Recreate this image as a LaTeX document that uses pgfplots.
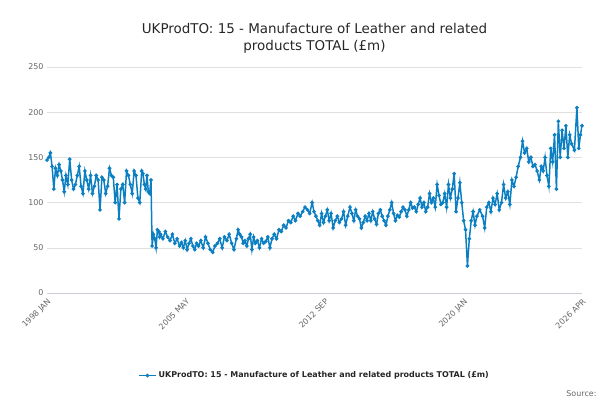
\documentclass[border=0pt]{standalone}
\usepackage{pgfplots}
\pgfplotsset{compat=1.18}
\usepackage{fontspec}
\setmainfont{DejaVu Sans}
\definecolor{ln}{HTML}{0B7FC2}
\begin{document}
\begin{tikzpicture}
\useasboundingbox (-47bp,-107bp) rectangle (553bp,293bp);
\begin{axis}[
  scale only axis, width=535bp, height=226bp,
  at={(0,0)},
  xmin=1998, xmax=2026.25, ymin=0, ymax=250,
  ytick={0,50,100,150,200,250},
  xtick={1998,2005.333,2012.667,2020,2026.25},
  xticklabels={1998 JAN,2005 MAY,2012 SEP,2020 JAN,2026 APR},
  xticklabel style={rotate=45,anchor=north east,font=\footnotesize,text=black!60},
  yticklabel style={font=\footnotesize,text=black!60},
  /pgf/number format/assume math mode=true,
  ymajorgrids, grid style={black!12},
  axis line style={draw=none},
  axis x line*=bottom, x axis line style={draw=blue!25!black!20},
  tick style={draw=none},
  major tick length=0pt,
  title={UKProdTO: 15 - Manufacture of Leather and related\\products TOTAL (£m)},
  title style={align=center,font=\fontsize{13.5}{17}\selectfont,text=black!85,yshift=4bp},
  legend style={at={(0.5,-0.33)},anchor=north,draw=none,font=\footnotesize\bfseries,text=black!85},
  legend cell align=left,
]
\addplot[ln, line width=1.5pt, mark=*, mark size=1pt] coordinates {
(1998.00,147)(1998.09,150)(1998.18,155)(1998.27,140)(1998.36,115)(1998.45,138)(1998.55,130)(1998.64,142)(1998.73,135)(1998.82,125)(1998.91,112)
(1999.00,130)(1999.10,120)(1999.20,148)(1999.30,125)(1999.40,115)(1999.50,120)(1999.60,130)(1999.70,140)(1999.80,118)(1999.90,110)
(2000.00,135)(2000.10,125)(2000.20,115)(2000.30,130)(2000.40,110)(2000.50,118)(2000.60,130)(2000.70,125)(2000.80,92)(2000.90,128)
(2001.00,125)(2001.10,110)(2001.20,118)(2001.30,138)(2001.40,130)(2001.50,128)(2001.60,100)(2001.70,120)(2001.80,82)(2001.90,115)
(2002.00,120)(2002.10,100)(2002.20,135)(2002.30,130)(2002.40,120)(2002.50,110)(2002.60,135)(2002.70,130)(2002.80,105)(2002.90,100)
(2003.00,135)(2003.07,132)(2003.14,120)(2003.21,115)(2003.28,130)(2003.35,112)(2003.42,110)(2003.49,125)
(2003.55,52)(2003.62,65)(2003.69,60)(2003.76,50)(2003.83,70)(2003.90,68)(2003.95,62)
(2004.00,65)(2004.12,60)(2004.25,68)(2004.37,62)(2004.50,58)(2004.62,65)(2004.75,55)(2004.87,60)
(2005.00,52)(2005.10,56)(2005.20,50)(2005.30,58)(2005.40,48)(2005.50,55)(2005.60,60)(2005.70,52)(2005.80,48)(2005.90,55)
(2006.00,52)(2006.12,58)(2006.25,50)(2006.37,62)(2006.50,55)(2006.62,48)(2006.75,45)(2006.87,52)
(2007.00,55)(2007.12,60)(2007.25,50)(2007.37,62)(2007.50,58)(2007.62,65)(2007.75,55)(2007.87,48)
(2008.00,60)(2008.09,70)(2008.18,65)(2008.27,62)(2008.36,55)(2008.45,58)(2008.55,52)(2008.64,60)(2008.73,65)(2008.82,48)(2008.91,62)
(2009.00,55)(2009.11,58)(2009.22,50)(2009.33,60)(2009.44,55)(2009.55,57)(2009.66,62)(2009.77,50)(2009.88,60)
(2010.00,65)(2010.12,60)(2010.25,70)(2010.37,68)(2010.50,75)(2010.62,72)(2010.75,80)(2010.87,78)
(2011.00,85)(2011.12,80)(2011.25,88)(2011.37,85)(2011.50,90)(2011.62,95)(2011.75,92)(2011.87,88)
(2012.00,100)(2012.10,90)(2012.20,85)(2012.30,80)(2012.40,75)(2012.50,88)(2012.60,78)(2012.70,85)(2012.80,92)(2012.90,80)
(2013.00,88)(2013.11,72)(2013.22,80)(2013.33,85)(2013.44,78)(2013.55,82)(2013.66,90)(2013.77,75)(2013.88,85)
(2014.00,95)(2014.10,88)(2014.20,80)(2014.30,92)(2014.40,85)(2014.50,82)(2014.60,72)(2014.70,78)(2014.80,85)(2014.90,80)
(2015.00,88)(2015.10,80)(2015.20,90)(2015.30,82)(2015.40,76)(2015.50,88)(2015.60,92)(2015.70,85)(2015.80,80)(2015.90,75)
(2016.00,85)(2016.10,92)(2016.20,100)(2016.30,88)(2016.40,80)(2016.50,86)(2016.60,84)(2016.70,90)(2016.80,95)(2016.90,92)
(2017.00,85)(2017.10,92)(2017.20,100)(2017.30,94)(2017.40,95)(2017.50,90)(2017.60,98)(2017.70,105)(2017.80,95)(2017.90,100)
(2018.00,90)(2018.10,95)(2018.20,110)(2018.30,100)(2018.40,105)(2018.50,95)(2018.60,120)(2018.70,108)(2018.80,98)(2018.90,100)
(2019.00,110)(2019.10,95)(2019.20,120)(2019.30,105)(2019.40,115)(2019.50,132)(2019.60,90)(2019.70,105)(2019.80,122)(2019.90,100)
(2020.00,80)(2020.10,70)(2020.20,30)(2020.30,60)(2020.40,80)(2020.50,90)(2020.60,75)(2020.70,85)(2020.85,92)
(2021.00,85)(2021.11,72)(2021.22,95)(2021.33,100)(2021.44,90)(2021.55,105)(2021.66,98)(2021.77,110)(2021.88,92)
(2022.00,100)(2022.11,120)(2022.22,105)(2022.33,112)(2022.44,98)(2022.55,125)(2022.66,118)(2022.77,128)(2022.88,140)
(2023.00,150)(2023.11,168)(2023.22,155)(2023.33,160)(2023.44,145)(2023.55,150)(2023.66,140)(2023.77,142)(2023.88,135)
(2024.00,125)(2024.10,140)(2024.20,135)(2024.30,150)(2024.40,130)(2024.50,118)(2024.60,160)(2024.70,145)(2024.80,175)(2024.90,115)
(2025.00,190)(2025.10,150)(2025.20,180)(2025.30,160)(2025.40,185)(2025.50,150)(2025.60,175)(2025.70,165)(2025.85,158)(2025.98,205)(2026.08,160)(2026.17,175)(2026.25,185)
};
\addlegendentry{UKProdTO: 15 - Manufacture of Leather and related products TOTAL (£m)}
\end{axis}
\node[anchor=south east,font=\footnotesize,text=black!60] at (553bp,-107bp) {Source:};
\end{tikzpicture}
\end{document}
